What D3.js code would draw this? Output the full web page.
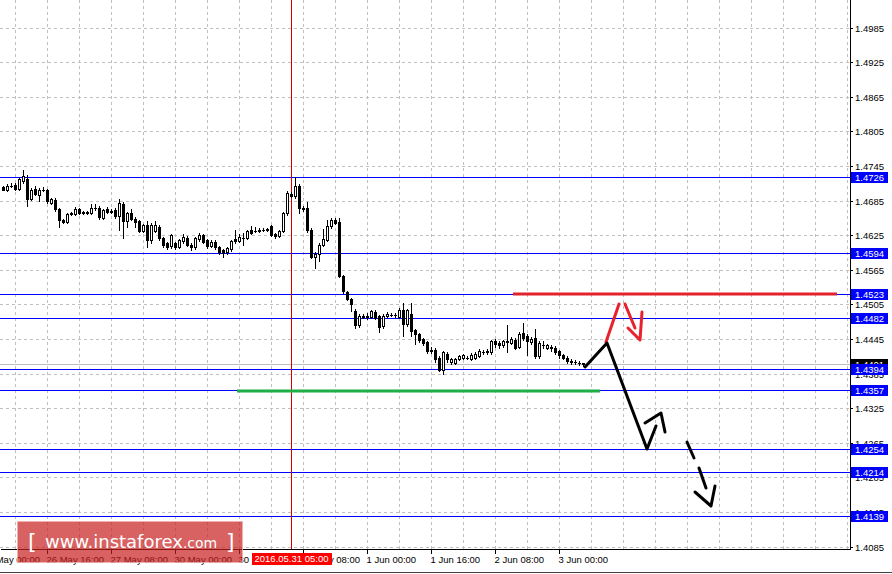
<!DOCTYPE html>
<html>
<head>
<meta charset="utf-8">
<script src="https://cdn.jsdelivr.net/npm/d3@7"></script>
<style>
html, body { margin: 0; padding: 0; background: #fff; }
svg { display: block; font-family: "Liberation Sans", Arial, sans-serif; }
</style>
</head>
<body>
<svg id="chart" width="892" height="574"></svg>
<script>
// H1 bars, 26 May 05:00 .. 3 Jun 06:00 -> [open, high, low, close]
var candles = [
  [1.4709,1.4711,1.4703,1.4704],[1.4703,1.4714,1.4702,1.4711],[1.4711,1.4716,1.4708,1.4710],[1.4712,1.4716,1.4704,1.4706],
  [1.4706,1.4725,1.4704,1.4722],[1.4720,1.4739,1.4716,1.4728],[1.4722,1.4729,1.4676,1.4688],[1.4688,1.4707,1.4686,1.4704],
  [1.4705,1.4710,1.4695,1.4697],[1.4695,1.4707,1.4684,1.4704],[1.4704,1.4708,1.4701,1.4703],[1.4704,1.4706,1.4681,1.4685],
  [1.4681,1.4690,1.4679,1.4688],[1.4687,1.4690,1.4668,1.4670],[1.4670,1.4672,1.4639,1.4652],[1.4652,1.4654,1.4646,1.4648],
  [1.4648,1.4664,1.4646,1.4662],[1.4662,1.4665,1.4660,1.4663],[1.4662,1.4674,1.4660,1.4670],[1.4670,1.4672,1.4662,1.4664],
  [1.4664,1.4667,1.4662,1.4665],[1.4665,1.4667,1.4662,1.4664],[1.4664,1.4679,1.4662,1.4673],[1.4673,1.4679,1.4669,1.4672],
  [1.4672,1.4675,1.4654,1.4656],[1.4655,1.4671,1.4653,1.4669],[1.4670,1.4674,1.4663,1.4665],[1.4666,1.4671,1.4664,1.4668],
  [1.4669,1.4672,1.4655,1.4658],[1.4658,1.4688,1.4635,1.4681],[1.4679,1.4683,1.4620,1.4649],[1.4650,1.4666,1.4640,1.4663],
  [1.4664,1.4671,1.4651,1.4654],[1.4654,1.4657,1.4640,1.4648],[1.4649,1.4651,1.4630,1.4633],[1.4633,1.4645,1.4631,1.4642],
  [1.4643,1.4649,1.4605,1.4616],[1.4616,1.4646,1.4612,1.4643],[1.4632,1.4650,1.4630,1.4642],[1.4640,1.4643,1.4617,1.4620],
  [1.4620,1.4622,1.4604,1.4609],[1.4612,1.4614,1.4602,1.4605],[1.4606,1.4628,1.4603,1.4625],[1.4611,1.4613,1.4601,1.4605],
  [1.4605,1.4619,1.4603,1.4616],[1.4615,1.4628,1.4612,1.4622],[1.4621,1.4624,1.4606,1.4609],[1.4609,1.4611,1.4599,1.4604],
  [1.4605,1.4622,1.4602,1.4620],[1.4618,1.4629,1.4615,1.4625],[1.4625,1.4627,1.4612,1.4614],[1.4616,1.4618,1.4603,1.4606],
  [1.4607,1.4616,1.4604,1.4613],[1.4614,1.4616,1.4602,1.4605],[1.4605,1.4607,1.4593,1.4596],[1.4599,1.4601,1.4587,1.4595],
  [1.4596,1.4605,1.4593,1.4603],[1.4601,1.4617,1.4598,1.4615],[1.4618,1.4635,1.4612,1.4615],[1.4615,1.4628,1.4613,1.4622],
  [1.4621,1.4629,1.4609,1.4620],[1.4620,1.4635,1.4618,1.4633],[1.4634,1.4641,1.4628,1.4629],[1.4632,1.4640,1.4630,1.4633],
  [1.4633,1.4637,1.4630,1.4634],[1.4634,1.4638,1.4632,1.4635],[1.4635,1.4638,1.4633,1.4636],[1.4641,1.4643,1.4623,1.4625],
  [1.4627,1.4629,1.4620,1.4623],[1.4624,1.4635,1.4622,1.4633],[1.4633,1.4665,1.4631,1.4663],[1.4663,1.4702,1.4661,1.4698],
  [1.4697,1.4700,1.4692,1.4694],[1.4694,1.4726,1.4690,1.4711],[1.4711,1.4714,1.4664,1.4673],[1.4672,1.4676,1.4667,1.4670],
  [1.4672,1.4683,1.4631,1.4634],[1.4635,1.4637,1.4585,1.4588],[1.4588,1.4596,1.4569,1.4593],[1.4593,1.4611,1.4580,1.4609],
  [1.4609,1.4636,1.4607,1.4619],[1.4617,1.4652,1.4615,1.4641],[1.4641,1.4655,1.4638,1.4652],[1.4652,1.4655,1.4645,1.4647],
  [1.4648,1.4655,1.4552,1.4554],[1.4555,1.4557,1.4525,1.4528],[1.4527,1.4529,1.4513,1.4515],[1.4515,1.4517,1.4493,1.4505],
  [1.4494,1.4497,1.4465,1.4469],[1.4469,1.4488,1.4466,1.4485],[1.4485,1.4489,1.4481,1.4484],[1.4484,1.4490,1.4480,1.4485],
  [1.4484,1.4496,1.4481,1.4494],[1.4492,1.4495,1.4479,1.4482],[1.4485,1.4487,1.4458,1.4466],[1.4467,1.4488,1.4464,1.4485],
  [1.4485,1.4492,1.4483,1.4489],[1.4487,1.4490,1.4485,1.4487],[1.4487,1.4490,1.4484,1.4486],[1.4484,1.4499,1.4482,1.4496],
  [1.4496,1.4508,1.4450,1.4472],[1.4472,1.4498,1.4468,1.4495],[1.4489,1.4508,1.4450,1.4459],[1.4460,1.4462,1.4437,1.4454],
  [1.4454,1.4456,1.4440,1.4444],[1.4445,1.4447,1.4435,1.4438],[1.4440,1.4442,1.4421,1.4424],[1.4425,1.4431,1.4421,1.4426],
  [1.4426,1.4429,1.4405,1.4411],[1.4413,1.4415,1.4389,1.4392],[1.4392,1.4425,1.4384,1.4422],[1.4419,1.4423,1.4406,1.4410],
  [1.4405,1.4413,1.4402,1.4411],[1.4404,1.4412,1.4402,1.4410],[1.4410,1.4418,1.4408,1.4415],[1.4412,1.4419,1.4410,1.4417],
  [1.4413,1.4416,1.4410,1.4413],[1.4411,1.4421,1.4409,1.4418],[1.4413,1.4422,1.4411,1.4420],[1.4416,1.4428,1.4414,1.4424],
  [1.4422,1.4426,1.4419,1.4423],[1.4423,1.4427,1.4420,1.4424],[1.4422,1.4444,1.4420,1.4441],[1.4441,1.4445,1.4432,1.4436],
  [1.4439,1.4442,1.4430,1.4434],[1.4435,1.4444,1.4432,1.4441],[1.4441,1.4470,1.4423,1.4440],[1.4439,1.4448,1.4436,1.4445],
  [1.4444,1.4447,1.4427,1.4430],[1.4432,1.4458,1.4429,1.4454],[1.4455,1.4473,1.4443,1.4447],[1.4450,1.4453,1.4418,1.4441],
  [1.4440,1.4449,1.4437,1.4446],[1.4447,1.4462,1.4412,1.4415],[1.4416,1.4442,1.4413,1.4439],[1.4435,1.4441,1.4430,1.4434],
  [1.4430,1.4437,1.4428,1.4434],[1.4432,1.4434,1.4425,1.4429],[1.4430,1.4433,1.4419,1.4422],[1.4424,1.4426,1.4412,1.4417],
  [1.4417,1.4419,1.4410,1.4413],[1.4413,1.4415,1.4403,1.4407],[1.4407,1.4410,1.4401,1.4406],[1.4406,1.4409,1.4401,1.4405],
  [1.4404,1.4407,1.4400,1.4403],[1.4403,1.4404,1.4398,1.4401]
];

var priceTicks = [1.4085, 1.4145, 1.4205, 1.4265, 1.4325, 1.4385, 1.4445, 1.4505,
                  1.4565, 1.4625, 1.4685, 1.4745, 1.4805, 1.4865, 1.4925, 1.4985];
var levels = [1.4726, 1.4594, 1.4523, 1.4482, 1.4394, 1.4357, 1.4254, 1.4214, 1.4139];
var bidPrice = 1.4401;

// bar index of each time label (bar 0 = 26 May 05:00)
var timeTickBars = [-5, 11, 27, 43, 59, 75, 91, 107, 123, 139];
var timeTickLabels = ["26 May 00:00", "26 May 16:00", "27 May 08:00", "30 May 00:00", "30 May 16:00",
                      "31 May 08:00", "1 Jun 00:00", "1 Jun 16:00", "2 Jun 08:00", "3 Jun 00:00"];
var cursorBar = 72;
var cursorLabel = "2016.05.31 05:00";

// hand drawn analysis, points as [bar index, price]
var redLevel = [[127.6, 1.4523], [208.6, 1.4523]];
var greenLevel = [[58.4, 1.4355], [149.3, 1.4355]];
var zigzag = [[145.4, 1.4397], [151.05, 1.4439], [160.95, 1.4255], [163.3, 1.4295]];
var zigzagHead = [[160.4, 1.4299], [164.55, 1.4317], [165.4, 1.4284]];
var redUp = [[150.8, 1.4440], [153.9, 1.4505]];
var redDown = [[155.6, 1.4505], [158.1, 1.4465]];
var redHead = [[156.2, 1.4465], [159.3, 1.4443], [159.7, 1.4492]];
var dashA = [[171.05, 1.4267], [172.7, 1.4239]];
var dashB = [[174.1, 1.4221], [175.8, 1.4187]];
var dashHead = [[173.1, 1.4179], [177.05, 1.4155], [178.1, 1.4190]];

var W = 892, H = 574;
var plotRight = 850, plotBottom = 549;
var font = "'Liberation Sans', Arial, sans-serif";

var x = d3.scaleLinear().domain([-0.75, 211.75]).rangeRound([0, plotRight]);
var y = d3.scaleLinear().domain([1.40810, 1.50339]).rangeRound([plotBottom, -0.5]);

var svg = d3.select("#chart");
svg.append("rect").attr("width", W).attr("height", H).attr("fill", "#fff");

// window frame at the very bottom
svg.append("line")
  .attr("x1", 0).attr("x2", W).attr("y1", 572.5).attr("y2", 572.5)
  .attr("stroke", "#404040").attr("shape-rendering", "crispEdges");

var plot = svg.append("g").attr("shape-rendering", "crispEdges");

// grid
plot.selectAll(".vgrid")
  .data(d3.range(3, 212, 8))
  .enter().append("line")
  .attr("x1", function(d) { return x(d) + 0.5; })
  .attr("x2", function(d) { return x(d) + 0.5; })
  .attr("y1", 0).attr("y2", plotBottom)
  .attr("stroke", "#c0c0c0").attr("stroke-dasharray", "3,3");

plot.selectAll(".hgrid")
  .data(priceTicks)
  .enter().append("line")
  .attr("x1", 0).attr("x2", plotRight)
  .attr("y1", function(d) { return y(d) + 0.5; })
  .attr("y2", function(d) { return y(d) + 0.5; })
  .attr("stroke", "#c0c0c0").attr("stroke-dasharray", "3,3");

// bid line
plot.append("line")
  .attr("x1", 0).attr("x2", plotRight)
  .attr("y1", y(bidPrice) + 0.5).attr("y2", y(bidPrice) + 0.5)
  .attr("stroke", "#c0c0c0");

// horizontal levels
plot.selectAll(".level")
  .data(levels)
  .enter().append("line")
  .attr("x1", 0).attr("x2", plotRight)
  .attr("y1", function(d) { return y(d) + 0.5; })
  .attr("y2", function(d) { return y(d) + 0.5; })
  .attr("stroke", "#0000ff");

// cursor line
plot.append("line")
  .attr("x1", x(cursorBar) + 0.5).attr("x2", x(cursorBar) + 0.5)
  .attr("y1", 0).attr("y2", plotBottom)
  .attr("stroke", "#d40000");

// candles
var bars = plot.selectAll(".bar")
  .data(candles)
  .enter().append("g");

bars.append("rect")
  .attr("x", function(d, i) { return x(i); })
  .attr("width", 1)
  .attr("y", function(d) { return y(d[1]); })
  .attr("height", function(d) { return y(d[2]) - y(d[1]) + 1; })
  .attr("fill", "#000");

bars.each(function(d, i) {
  var g = d3.select(this);
  var top = y(Math.max(d[0], d[3])), bot = y(Math.min(d[0], d[3]));
  if (d[3] > d[0] && bot - top >= 2) {
    g.append("rect")
      .attr("x", x(i) - 0.5).attr("width", 2)
      .attr("y", top + 0.5).attr("height", bot - top)
      .attr("fill", "#fff").attr("stroke", "#000");
  } else {
    g.append("rect")
      .attr("x", x(i) - 1).attr("width", 3)
      .attr("y", top).attr("height", bot - top + 1)
      .attr("fill", "#000");
  }
});

// analysis drawing
var line = d3.line()
  .x(function(d) { return x(d[0]); })
  .y(function(d) { return y(d[1]); });

var draw = svg.append("g")
  .attr("fill", "none")
  .attr("stroke-linecap", "round")
  .attr("stroke-linejoin", "round");

draw.append("path").attr("d", line(greenLevel)).attr("stroke", "#1fae45").attr("stroke-width", 3).attr("stroke-linecap", "butt");
draw.append("path").attr("d", line(redLevel)).attr("stroke", "#e3222b").attr("stroke-width", 3).attr("stroke-linecap", "butt");

[redUp, redDown, redHead].forEach(function(p) {
  draw.append("path").attr("d", line(p)).attr("stroke", "#e8212c").attr("stroke-width", 3);
});
[zigzag, zigzagHead, dashA, dashB, dashHead].forEach(function(p) {
  draw.append("path").attr("d", line(p)).attr("stroke", "#000").attr("stroke-width", 3);
});

// price axis
var yAxis = d3.axisRight(y)
  .tickValues(priceTicks)
  .tickSize(3).tickSizeOuter(0).tickPadding(2)
  .tickFormat(d3.format(".4f"));

svg.append("g")
  .attr("transform", "translate(" + plotRight + ",0)")
  .attr("shape-rendering", "crispEdges")
  .call(yAxis)
  .attr("font-family", font).attr("font-size", 9.5)
  .call(function(g) { g.selectAll("text").attr("fill", "#000"); });

// time axis
var xAxis = d3.axisBottom(x)
  .tickValues(timeTickBars)
  .tickSize(5).tickSizeOuter(0).tickPadding(2)
  .tickFormat(function(d, i) { return timeTickLabels[i]; });

svg.append("g")
  .attr("transform", "translate(0," + plotBottom + ")")
  .attr("shape-rendering", "crispEdges")
  .call(xAxis)
  .attr("font-family", font).attr("font-size", 9.5)
  .call(function(g) {
    g.selectAll("text").attr("fill", "#000").attr("text-anchor", "start").attr("x", -1);
  });

// price labels on the scale
function priceTag(price, colour) {
  var r = y(price);
  var tag = svg.append("g");
  tag.append("rect")
    .attr("x", plotRight + 1).attr("y", r - 5).attr("width", 37).attr("height", 11)
    .attr("fill", colour).attr("shape-rendering", "crispEdges");
  tag.append("text")
    .attr("x", plotRight + 5).attr("y", r + 0.5).attr("dy", "0.35em")
    .attr("font-family", font).attr("font-size", 9.5).attr("fill", "#fff")
    .text(d3.format(".4f")(price));
}
priceTag(bidPrice, "#000");
levels.forEach(function(p) { priceTag(p, "#0000ff"); });

// cursor time label
var cx = x(cursorBar) + 0.5;
svg.append("rect")
  .attr("x", cx - 40).attr("y", 553).attr("width", 80).attr("height", 12)
  .attr("fill", "#ff0000").attr("shape-rendering", "crispEdges");
svg.append("text")
  .attr("x", cx).attr("y", 559).attr("dy", "0.35em")
  .attr("text-anchor", "middle")
  .attr("font-family", font).attr("font-size", 9.5).attr("fill", "#fff")
  .text(cursorLabel);

// logo
var logo = svg.append("g");
logo.append("rect")
  .attr("x", 17.5).attr("y", 521.5).attr("width", 225).attr("height", 41)
  .attr("fill", "rgb(200,30,30)").attr("fill-opacity", 0.7)
  .attr("stroke", "#f0b0b0").attr("stroke-opacity", 0.8);
logo.append("text")
  .attr("x", 28).attr("y", 549)
  .attr("font-family", "'DejaVu Sans', sans-serif").attr("font-size", 22).attr("fill", "#fff")
  .text("[");
var brand = logo.append("text")
  .attr("x", 45).attr("y", 548)
  .attr("font-family", "'DejaVu Sans', sans-serif").attr("fill", "#fff");
brand.append("tspan").attr("font-size", 18).text("www.instaforex");
brand.append("tspan").attr("font-size", 14).text(".com");
logo.append("text")
  .attr("x", 226).attr("y", 549)
  .attr("font-family", "'DejaVu Sans', sans-serif").attr("font-size", 22).attr("fill", "#fff")
  .text("]");
</script>
</body>
</html>
